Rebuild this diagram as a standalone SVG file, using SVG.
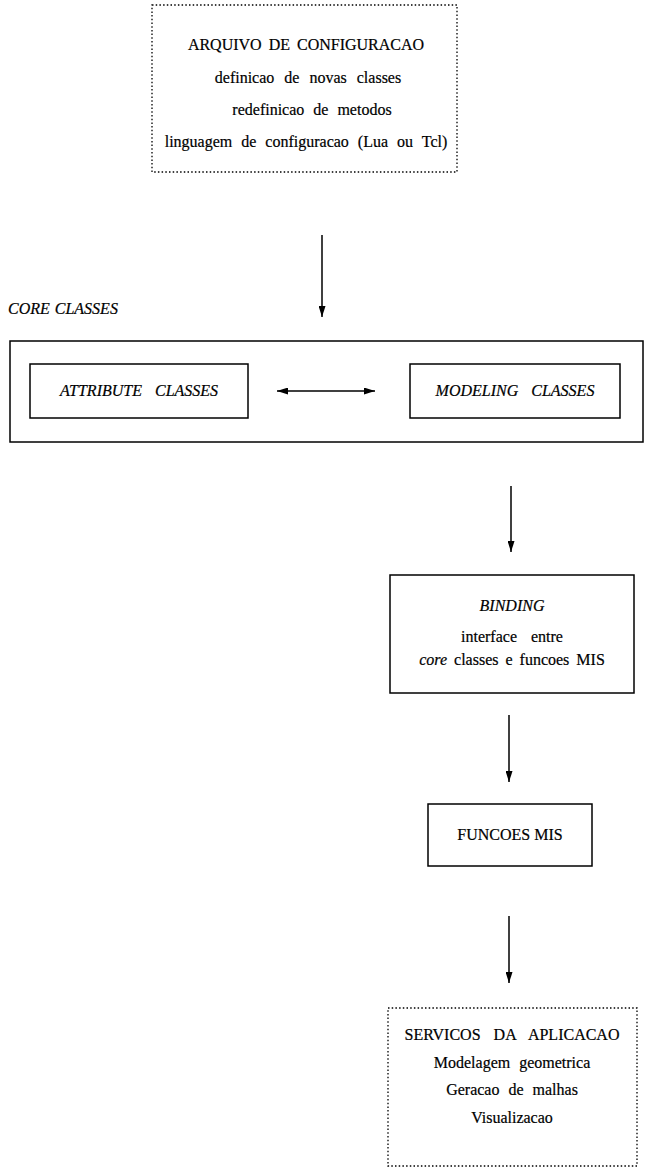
<svg xmlns="http://www.w3.org/2000/svg" width="645" height="1173" viewBox="0 0 645 1173">
  <style>
    .box { fill: none; stroke: #000; stroke-width: 1.5; }
    .dot { fill: none; stroke: #000; stroke-width: 1.3; stroke-dasharray: 1.5 2.2; }
    .t { font-family: "Liberation Serif", "Times New Roman", serif; font-size: 16px; fill: #000; text-anchor: middle; word-spacing: 3px; stroke: #000; stroke-width: 0.2; }
    .i { font-style: italic; }
    .conn line { stroke: #000; stroke-width: 1.5; fill: none; }
  </style>
  <defs>
    <marker id="head" markerUnits="userSpaceOnUse" viewBox="0 0 11 7" refX="11" refY="3.5" markerWidth="11" markerHeight="7" orient="auto-start-reverse">
      <path d="M0,0 L11,3.5 L0,7 z" fill="#000"/>
    </marker>
  </defs>
  <rect width="645" height="1173" fill="#fff"/>

  <!-- configuration file -->
  <g id="config">
    <rect class="dot" x="152" y="5" width="305" height="167"/>
    <text class="t" x="306" y="50">ARQUIVO DE CONFIGURACAO</text>
    <text class="t" x="308" y="83" style="word-spacing:6px">definicao de novas classes</text>
    <text class="t" x="312" y="115" style="word-spacing:5px">redefinicao de metodos</text>
    <text class="t" x="306" y="147" style="word-spacing:5px">linguagem de configuracao (Lua ou Tcl)</text>
  </g>

  <!-- core classes container -->
  <g id="core">
    <text class="t i" x="8" y="314" style="text-anchor:start;word-spacing:1px">CORE CLASSES</text>
    <rect class="box" x="10" y="341" width="633" height="101"/>
  </g>

  <g id="attribute">
    <rect class="box" x="30" y="364" width="218" height="54"/>
    <text class="t i" x="139" y="396" style="word-spacing:9px">ATTRIBUTE CLASSES</text>
  </g>

  <g id="modeling">
    <rect class="box" x="410" y="364" width="210" height="54"/>
    <text class="t i" x="515" y="396" style="word-spacing:9px">MODELING CLASSES</text>
  </g>

  <g id="binding">
    <rect class="box" x="390" y="575" width="244" height="118"/>
    <text class="t i" x="512" y="611">BINDING</text>
    <text class="t" x="512" y="642" style="word-spacing:10px">interface entre</text>
    <text class="t" x="512" y="665"><tspan class="i">core</tspan> classes e funcoes MIS</text>
  </g>

  <g id="funcoes">
    <rect class="box" x="428" y="804" width="164" height="62"/>
    <text class="t" x="510" y="840" style="word-spacing:0px">FUNCOES MIS</text>
  </g>

  <g id="servicos">
    <rect class="dot" x="388" y="1008" width="249" height="158"/>
    <text class="t" x="512" y="1040" style="word-spacing:9px">SERVICOS DA APLICACAO</text>
    <text class="t" x="512" y="1068" style="word-spacing:5px">Modelagem geometrica</text>
    <text class="t" x="512" y="1095" style="word-spacing:5px">Geracao de malhas</text>
    <text class="t" x="512" y="1123">Visualizacao</text>
  </g>

  <!-- connectors -->
  <g class="conn">
    <line x1="322" y1="235" x2="322" y2="317" marker-end="url(#head)"/>
    <line x1="277" y1="391" x2="375" y2="391" marker-start="url(#head)" marker-end="url(#head)"/>
    <line x1="511" y1="486" x2="511" y2="552" marker-end="url(#head)"/>
    <line x1="509" y1="715" x2="509" y2="782" marker-end="url(#head)"/>
    <line x1="509" y1="916" x2="509" y2="983" marker-end="url(#head)"/>
  </g>
</svg>
